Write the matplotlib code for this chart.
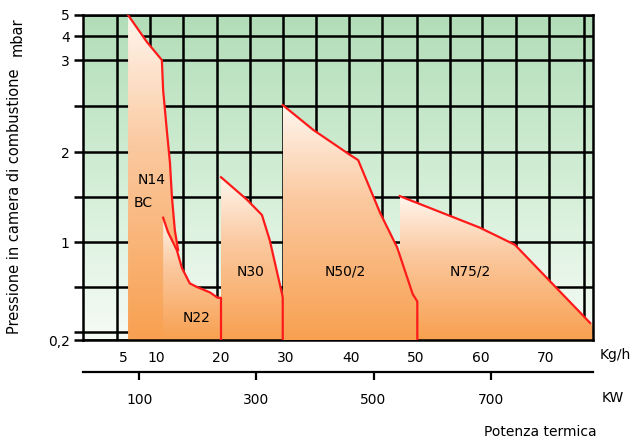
import numpy as np
import matplotlib.pyplot as plt
from matplotlib.patches import Polygon
from matplotlib.colors import LinearSegmentedColormap

# pressure axis of the original is neither linear nor log: value -> height
p_vals = [0.2, 0.25, 0.5, 1, 1.5, 2, 2.5, 3, 4, 5]
p_pos = [0, 8, 53, 98, 143, 188, 234, 280, 304, 325]

p_major = [0.2, 1, 2, 3, 4, 5]
p_labels = ['0,2', '1', '2', '3', '4', '5']
p_minor = [0.25, 0.5, 1.5, 2.5]

kg_ticks = [5, 10, 20, 30, 40, 50, 60, 70]
kg_grid = [4.0, 9.1, 14.2, 19.4, 24.5, 29.5, 34.6, 39.7, 44.8, 50.2, 55.2, 60.2, 65.4, 70.5, 75.8]
kw_ticks = [100, 300, 500, 700]

# working ranges of the burners (Kg/h, mbar)
n14_x = [5.7, 5.7, 8.6, 10.9, 11.1, 11.7, 12.15, 12.45, 12.9, 13.4, 13.4]
n14_y = [0.2, 5.0, 3.75, 3.0, 2.67, 2.21, 1.88, 1.5, 1.13, 0.91, 0.2]

n22_x = [11.1, 11.1, 11.85, 13.2, 14.0, 15.2, 16.3, 18.3, 19.5, 20.0, 20.0]
n22_y = [0.2, 1.27, 1.11, 0.91, 0.71, 0.54, 0.5, 0.47, 0.44, 0.44, 0.2]

n30_x = [20.0, 20.0, 24.0, 26.3, 27.5, 29.4, 29.5, 29.5]
n30_y = [0.2, 1.72, 1.47, 1.30, 1.02, 0.46, 0.44, 0.2]

n50_x = [29.5, 29.5, 34.2, 39.8, 41.1, 44.5, 47.1, 49.5, 50.2, 50.2]
n50_y = [0.2, 2.51, 2.24, 1.97, 1.91, 1.32, 0.94, 0.46, 0.42, 0.2]

n75_x = [47.5, 47.5, 59.8, 65.2, 76.8, 77.2, 77.2]
n75_y = [0.2, 1.51, 1.16, 0.97, 0.30, 0.29, 0.2]


def fwd(v):
    return np.interp(v, p_vals, p_pos)


def inv(u):
    return np.interp(u, p_pos, p_vals)


def kg_to_kw(x):
    return 11.1 * np.asarray(x) + 17.5


def kw_to_kg(x):
    return (np.asarray(x) - 17.5) / 11.1


fig = plt.figure(figsize=(6.32, 4.41), dpi=100)
ax = fig.add_axes([83 / 632, 1 - 340 / 441, 510 / 632, 325 / 441])
ax.set_yscale('function', functions=(fwd, inv))
ax.set_xlim(-1.23, 77.23)
ax.set_ylim(0.2, 5)

# green background fading to white
bg = LinearSegmentedColormap.from_list('bg', ['#b2ddb8', '#d2eed5', '#f6fbf6'])
grad = np.linspace(0, 1, 256).reshape(-1, 1)
ax.imshow(grad, cmap=bg, aspect='auto', extent=[0, 1, 0, 1],
          transform=ax.transAxes, zorder=0)

fill_cmap = LinearSegmentedColormap.from_list(
    'fill', [(0, '#fff6ee'), (0.4, '#fbc9a0'), (1, '#f8a050')])

to_axes = ax.transData + ax.transAxes.inverted()


def region(xs, ys, z, line_from=1, line_to=None):
    pts = np.column_stack([xs, ys])
    poly = Polygon(pts, closed=True, transform=ax.transData,
                   facecolor='none', edgecolor='none')
    ax.add_patch(poly)
    ax_pts = to_axes.transform(pts)
    x0, x1 = ax_pts[:, 0].min(), ax_pts[:, 0].max()
    y1 = ax_pts[:, 1].max()
    im = ax.imshow(grad, cmap=fill_cmap, aspect='auto', extent=[x0, x1, 0, y1],
                   transform=ax.transAxes, zorder=z)
    im.set_clip_path(poly)
    ax.plot(xs[line_from:line_to], ys[line_from:line_to], color='#ff1a1a',
            lw=1.6, zorder=5, solid_joinstyle='round')


region(n14_x, n14_y, 1, 1, -1)
region(n22_x, n22_y, 2)
region(n30_x, n30_y, 2)
region(n75_x, n75_y, 2, 1, 5)
region(n50_x, n50_y, 3)

ax.text(9.4, 1.69, 'N14', fontsize=10, ha='center', va='center', zorder=6)
ax.text(8.0, 1.43, 'BC', fontsize=10, ha='center', va='center', zorder=6)
ax.text(16.2, 0.33, 'N22', fontsize=10, ha='center', va='center', zorder=6)
ax.text(24.5, 0.67, 'N30', fontsize=10, ha='center', va='center', zorder=6)
ax.text(39.1, 0.67, 'N50/2', fontsize=10, ha='center', va='center', zorder=6)
ax.text(58.3, 0.67, 'N75/2', fontsize=10, ha='center', va='center', zorder=6)

# ticks and grid
ax.set_yticks(p_major)
ax.set_yticklabels(p_labels)
ax.set_yticks(p_minor, minor=True)
ax.set_xticks(kg_ticks)
ax.set_xticks(kg_grid, minor=True)
ax.set_axisbelow(True)
ax.yaxis.grid(True, which='both', color='black', lw=1.8)
ax.xaxis.grid(True, which='minor', color='black', lw=1.8)
ax.xaxis.grid(False, which='major')
ax.tick_params(axis='y', which='both', length=6.5, width=1.8, labelsize=10, pad=3)
ax.tick_params(axis='x', which='both', length=0, labelsize=10, pad=8)
for s in ax.spines.values():
    s.set_linewidth(1.8)

sec = ax.secondary_xaxis(-32 / 325, functions=(kg_to_kw, kw_to_kg))
sec.set_xticks(kw_ticks)
sec.tick_params(length=6, width=1.6, labelsize=10, pad=9)
sec.spines['bottom'].set_linewidth(1.6)

fig.text(600 / 632, 1 - 355 / 441, 'Kg/h', fontsize=10, va='center')
fig.text(602 / 632, 1 - 398 / 441, 'KW', fontsize=10, va='center')
fig.text(540 / 632, 1 - 432 / 441, 'Potenza termica', fontsize=10,
         ha='center', va='center')
fig.text(15 / 632, 1 - 201 / 441, 'Pressione in camera di combustione',
         fontsize=10.5, rotation=90, ha='center', va='center')
fig.text(17 / 632, 1 - 37 / 441, 'mbar', fontsize=10.5, rotation=90,
         ha='center', va='center')

fig.savefig('out.png', dpi=100)
